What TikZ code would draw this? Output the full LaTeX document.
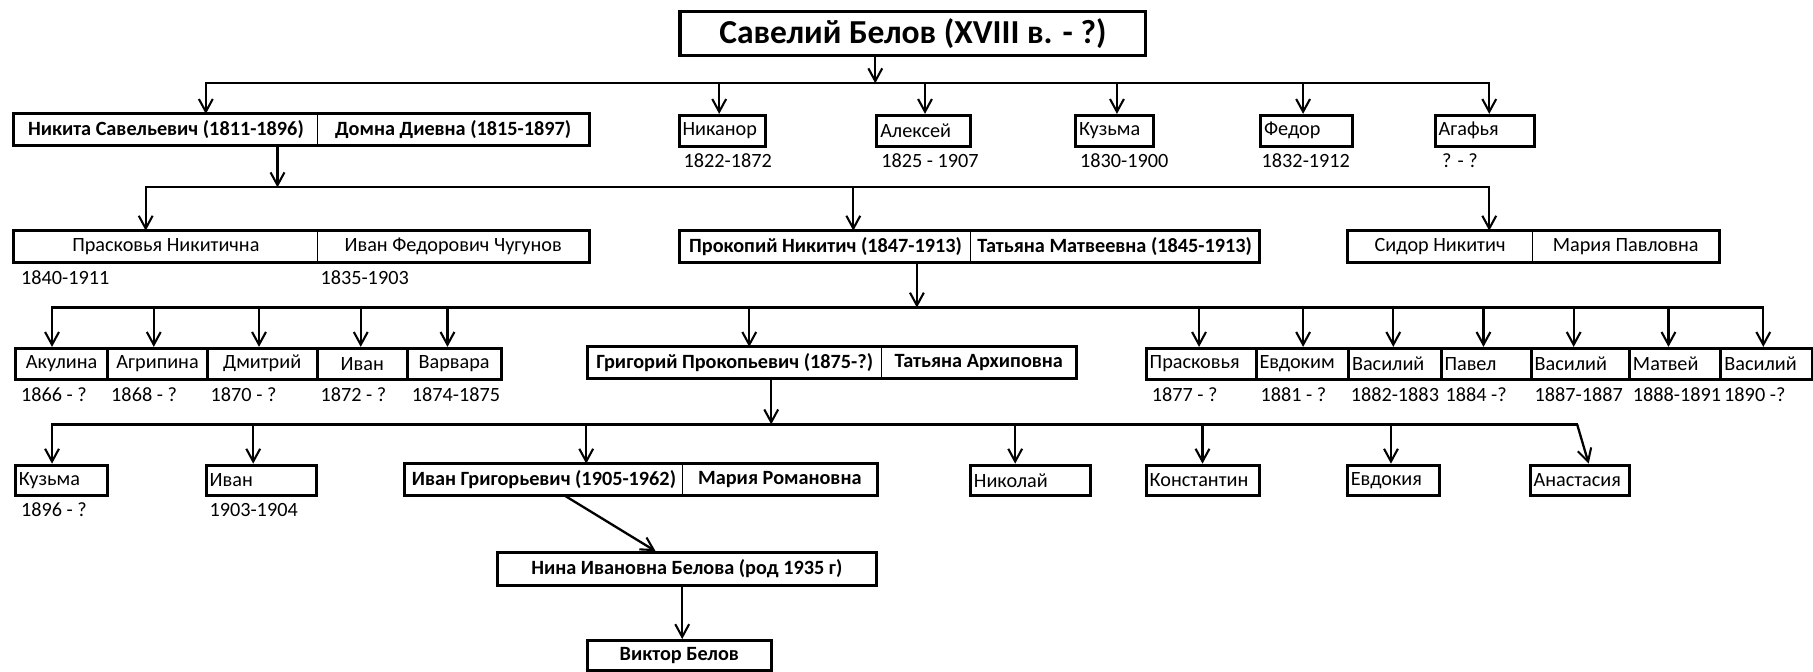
\documentclass[tikz,border=0pt]{standalone}
\usepackage{fontspec}
\setmainfont{Carlito}
\usetikzlibrary{arrows.meta}
\hyphenpenalty=10000
\tikzstyle{half}=[draw, line width=0.9pt, anchor=north west, minimum height=26.5pt, inner xsep=3pt, inner ysep=0pt, align=flush center, font=\fontsize{17.5}{20}\selectfont]
\tikzstyle{halfleft}=[half, align=flush left]
\tikzstyle{single}=[halfleft, line width=2.6pt]
\tikzstyle{sibling}=[half, line width=2.6pt]
\tikzstyle{outer}=[line width=2.6pt]
\tikzstyle{rootbox}=[draw, line width=2.8pt, minimum width=403pt, minimum height=38pt, inner sep=0pt, font=\fontsize{29}{34}\selectfont\bfseries]
\tikzstyle{date}=[anchor=west, inner sep=0pt, font=\fontsize{17.5}{20}\selectfont]
\tikzstyle{link}=[line width=2pt, line cap=rect]
\tikzstyle{arr}=[line width=2pt, -{Straight Barb[length=11pt,width=12pt,line width=1.8pt]}]
\newcommand{\person}[6][single]{% [style] name, left x, top y, width, text
	\pgfmathsetmacro{\tw}{#5-6}
	\node[#1, text width=\tw pt] (#2) at (#3,#4) {#6};
}
\begin{document}
\begin{tikzpicture}[x=1pt,y=-1pt]
	\useasboundingbox (0,0) rectangle (1568,581);
	% generation 0
	\node[rootbox] (root) at (789.5,29) {Савелий Белов (XVIII в. - ?)};
	% generation 1
	\person[half]{nikita}{12}{98.5}{262}{\textbf{Никита Савельевич (1811-1896)}}
	\person[half]{domna}{274}{98.5}{235}{\textbf{Домна Диевна (1815-1897)}}
	\draw[outer] (nikita.north west) rectangle (domna.south east);
	\person{nikanor}{586}{98.5}{75}{Никанор}
	\person{aleksei}{757}{98.5}{81}{Алексей}
	\person{kuzma}{929}{98.5}{67}{Кузьма}
	\person{fedor}{1089}{98.5}{79}{Федор}
	\person{agafya}{1240}{98.5}{86}{Агафья}
	\node[date] (dnikanor) at (591,139) {1822-1872};
	\node[date] (daleksei) at (762,139) {1825 - 1907};
	\node[date] (dkuzma) at (934,139) {1830-1900};
	\node[date] (dfedor) at (1091,139) {1832-1912};
	\node[date] (dagafya) at (1247,139) {? - ?};
	% generation 2
	\person[half]{praskovya}{12}{199.5}{262}{Прасковья Никитична}
	\person[half]{chugunov}{274}{199.5}{235}{Иван Федорович Чугунов}
	\draw[outer] (praskovya.north west) rectangle (chugunov.south east);
	\node[date] (dpraskovya) at (18,240) {1840-1911};
	\node[date] (dchugunov) at (277,240) {1835-1903};
	\person[half]{prokopy}{588}{199.5}{251}{\textbf{Прокопий Никитич (1847-1913)}}
	\person[half]{tatyanam}{839}{199.5}{249}{\textbf{Татьяна Матвеевна (1845-1913)}}
	\draw[outer] (prokopy.north west) rectangle (tatyanam.south east);
	\person[half]{sidor}{1165}{199.5}{160}{Сидор Никитич}
	\person[half]{mariap}{1325}{199.5}{161}{Мария Павловна}
	\draw[outer] (sidor.north west) rectangle (mariap.south east);
	% generation 3
	\person[sibling]{akulina}{12}{300}{80}{Акулина}
	\person[sibling]{agripina}{92}{300}{86}{Агрипина}
	\person[sibling]{dmitry}{178}{300}{95}{Дмитрий}
	\person[sibling]{ivana}{273}{300}{78}{Иван}
	\person[sibling]{varvara}{351}{300}{81}{Варвара}
	\node[date] (dakulina) at (18,341) {1866 - ?};
	\node[date] (dagripina) at (96,341) {1868 - ?};
	\node[date] (ddmitry) at (182,341) {1870 - ?};
	\node[date] (divana) at (277,341) {1872 - ?};
	\node[date] (dvarvara) at (356,341) {1874-1875};
	\person[half]{grigory}{508}{300}{254}{\textbf{Григорий Прокопьевич (1875-?)}}
	\person[half]{tatyanaa}{762}{300}{168}{\textbf{Татьяна Архиповна}}
	\draw[outer] (grigory.north west) rectangle (tatyanaa.south east);
	\person{praskovyab}{990}{300}{95}{Прасковья}
	\person{evdokim}{1085}{300}{80}{Евдоким}
	\person{vasilya}{1165}{300}{80}{Василий}
	\person{pavel}{1245}{300}{78}{Павел}
	\person{vasilyb}{1323}{300}{85}{Василий}
	\person{matvey}{1408}{300}{79}{Матвей}
	\person{vasilyc}{1487}{300}{79}{Василий}
	\node[date] (dpraskovyab) at (996,341) {1877 - ?};
	\node[date] (devdokim) at (1090,341) {1881 - ?};
	\node[date] (dvasilya) at (1168,341) {1882-1883};
	\node[date] (dpavel) at (1250,341) {1884 -?};
	\node[date] (dvasilyb) at (1327,341) {1887-1887};
	\node[date] (dmatvey) at (1412,341) {1888-1891};
	\node[date] (dvasilyc) at (1491,341) {1890 -?};
	% generation 4
	\person{kuzmab}{12}{401}{80}{Кузьма}
	\person{ivanb}{177}{401}{95}{Иван}
	\node[date] (dkuzmab) at (18,441) {1896 - ?};
	\node[date] (divanb) at (181,441) {1903-1904};
	\person[half]{ivang}{350}{401}{240}{\textbf{Иван Григорьевич (1905-1962)}}
	\person[half]{mariar}{590}{401}{168}{\textbf{Мария Романовна}}
	\draw[outer] (ivang.north west) rectangle (mariar.south east);
	\person{nikolay}{838}{401}{104}{Николай}
	\person{konstantin}{990}{401}{98}{Константин}
	\person{evdokiya}{1164}{401}{80}{Евдокия}
	\person{anastasiya}{1322}{401}{86}{Анастасия}
	% generations 5 and 6
	\node[draw, line width=2.6pt, minimum width=328pt, minimum height=28pt, inner sep=0pt, font=\fontsize{17.5}{20}\selectfont\bfseries] (nina) at (594,492) {Нина Ивановна Белова (род 1935 г)};
	\node[draw, line width=2.6pt, minimum width=159pt, minimum height=26pt, inner sep=0pt, font=\fontsize{17.5}{20}\selectfont\bfseries] (viktor) at (587.5,567) {Виктор Белов};
	% connectors
	\coordinate (bar1W) at (178,72);
	\coordinate (bar1E) at (1288,72);
	\draw[arr] (757,0 |- root.south) -- (757,72);
	\draw[link] (bar1W) -- (bar1E);
	\foreach \x/\n in {178/nikita,622/nikanor,800/aleksei,966/kuzma,1127/fedor,1288/agafya}
		\draw[arr] (\x,72) -- (\x,0 |- \n.north);
	\coordinate (bar2W) at (126,162);
	\coordinate (bar2E) at (1288,162);
	\draw[arr] (240,0 |- nikita.south) -- (240,162);
	\draw[link] (bar2W) -- (bar2E);
	\foreach \x/\n in {126/praskovya,738/prokopy,1288/sidor}
		\draw[arr] (\x,162) -- (\x,0 |- \n.north);
	\coordinate (bar3W) at (45,266);
	\coordinate (bar3E) at (1525,266);
	\draw[arr] (793,0 |- prokopy.south) -- (793,266);
	\draw[link] (bar3W) -- (bar3E);
	\foreach \x/\n in {45/akulina,133/agripina,224/dmitry,312/ivana,387/varvara,648/grigory,1037/praskovyab,1127/evdokim,1205/vasilya,1283/pavel,1361/vasilyb,1443/matvey,1525/vasilyc}
		\draw[arr] (\x,266) -- (\x,0 |- \n.north);
	\coordinate (bar4W) at (45,367);
	\coordinate (bar4E) at (1364,367);
	\draw[arr] (667,0 |- grigory.south) -- (667,367);
	\draw[link] (bar4W) -- (bar4E);
	\foreach \x/\n in {45/kuzmab,219/ivanb,507/ivang,878/nikolay,1040/konstantin,1203/evdokiya}
		\draw[arr] (\x,367) -- (\x,0 |- \n.north);
	\draw[arr] (bar4E) -- (1374,0 |- anastasiya.north);
	\draw[arr] (488,0 |- ivang.south) -- (567,0 |- nina.north);
	\draw[arr] (590,0 |- nina.south) -- (590,0 |- viktor.north);
\end{tikzpicture}
\end{document}
